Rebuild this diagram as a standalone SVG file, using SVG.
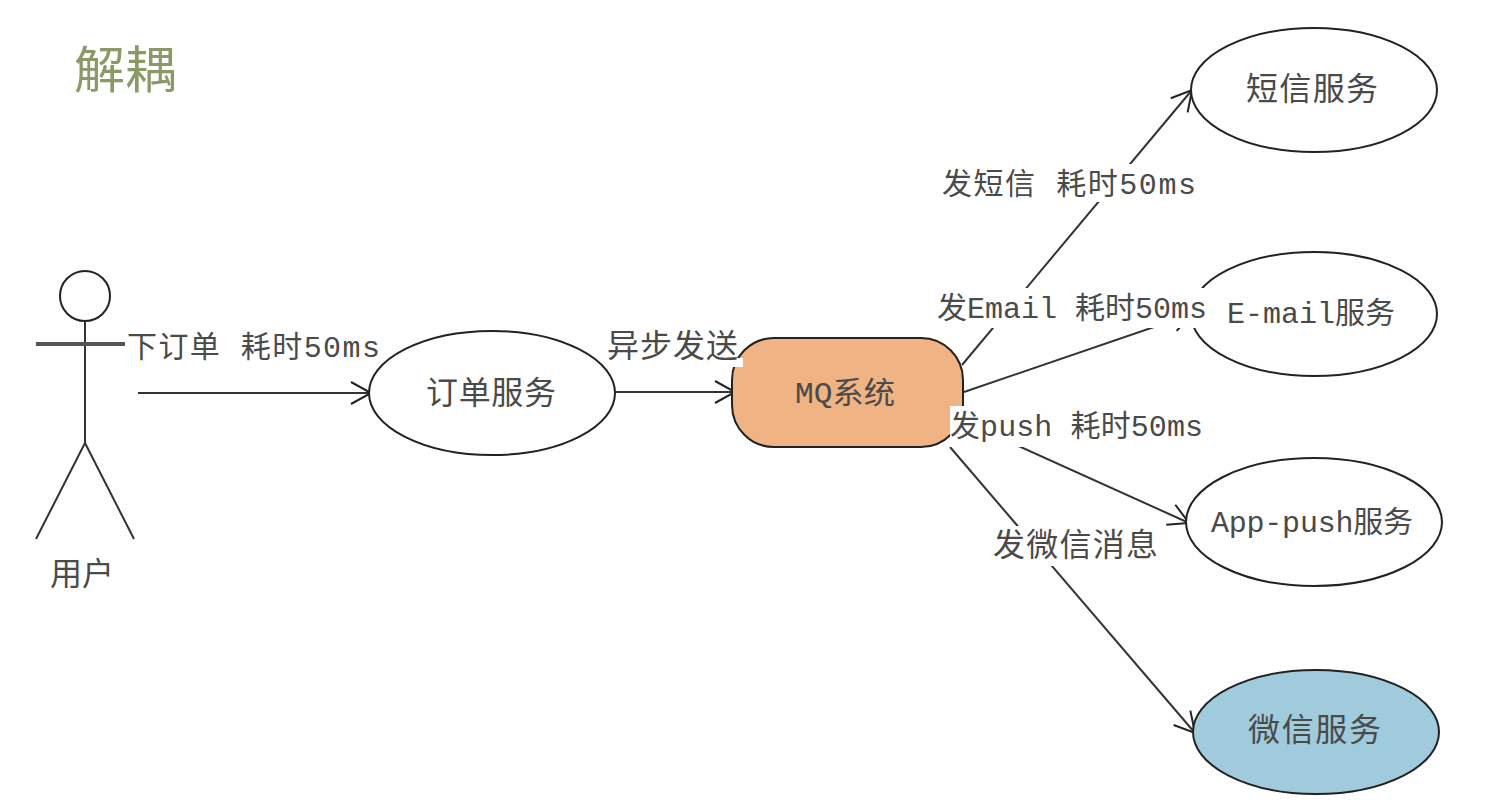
<svg xmlns="http://www.w3.org/2000/svg" width="1510" height="810" viewBox="0 0 1510 810">
<style>
text{font-family:"Noto Sans CJK SC","Liberation Mono",monospace;fill:#4a4a4a;font-size:32px;text-anchor:start}
.lb{font-family:"Liberation Mono","Noto Sans CJK SC",monospace;font-size:30px}
.n{fill:#fff;stroke:#222;stroke-width:2}
.l{fill:none;stroke:#333;stroke-width:2}
.w{fill:#fff}
</style>
<defs><marker id="a" markerWidth="30" markerHeight="30" refX="22" refY="12" orient="auto" markerUnits="userSpaceOnUse"><path d="M2 1L22 12L2 23" fill="none" stroke="#222" stroke-width="2"/></marker></defs>
<rect width="1510" height="810" fill="#fff"/>
<text x="74" y="88" textLength="102" lengthAdjust="spacingAndGlyphs" style="font-size:50px;fill:#8a9a66">解耦</text>
<g id="connectors">
<path class="l" d="M138 393H371" marker-end="url(#a)"/>
<path class="l" d="M615 392H735" marker-end="url(#a)"/>
<path class="l" d="M962 365L1192 90" marker-end="url(#a)"/>
<path class="l" d="M964 392L1192 314" marker-end="url(#a)"/>
<path class="l" d="M950 415L1189 523" marker-end="url(#a)"/>
<path class="l" d="M950 447L1195 733" marker-end="url(#a)"/>
</g>
<g id="user">
<circle class="n" cx="85" cy="296" r="25"/>
<path class="l" d="M85 321V443L36 539M85 443L134 539"/>
<path d="M36 344H125" fill="none" stroke="#555" stroke-width="4"/>
<text x="50" y="585" textLength="64">用户</text>
</g>
<g id="order"><ellipse class="n" cx="492" cy="393" rx="123" ry="62"/><text x="426" y="404" textLength="130">订单服务</text></g>
<g id="mq"><rect x="732" y="338" width="231" height="109" rx="42" fill="#f0b383" stroke="#222" stroke-width="2"/><text class="lb" x="795" y="403" textLength="100" lengthAdjust="spacingAndGlyphs">MQ系统</text></g>
<g id="sms"><ellipse class="n" cx="1314" cy="90" rx="123" ry="62"/><text x="1246" y="100" textLength="132">短信服务</text></g>
<g id="email"><ellipse class="n" cx="1314" cy="314" rx="123" ry="62"/><rect class="w" x="1186" y="288" width="26" height="40"/><text class="lb" x="1227" y="323" textLength="168">E-mail服务</text></g>
<g id="push"><ellipse class="n" cx="1314" cy="522" rx="128" ry="64"/><text class="lb" x="1211" y="532" textLength="202">App-push服务</text></g>
<g id="wechat"><ellipse cx="1316" cy="732" rx="123" ry="62" fill="#9fcbdc" stroke="#222" stroke-width="2"/><text x="1248" y="741" textLength="133">微信服务</text></g>
<g id="labels">
<rect class="w" x="125" y="328" width="256" height="36"/><text class="lb" x="127" y="357" textLength="253">下订单 耗时50ms</text>
<path class="w" d="M606 326H737V358H743V367H606Z"/><text x="607" y="357" textLength="131">异步发送</text>
<rect class="w" x="940" y="164" width="256" height="38"/><text class="lb" x="942" y="194" textLength="254">发短信 耗时50ms</text>
<rect class="w" x="936" y="288" width="272" height="40"/><text class="lb" x="937" y="318" textLength="270">发Email 耗时50ms</text>
<rect class="w" x="950" y="406" width="254" height="41"/><text class="lb" x="950" y="436" textLength="253">发push 耗时50ms</text>
<rect class="w" x="990" y="526" width="170" height="40"/><text x="993" y="556" textLength="165">发微信消息</text>
</g>
</svg>
